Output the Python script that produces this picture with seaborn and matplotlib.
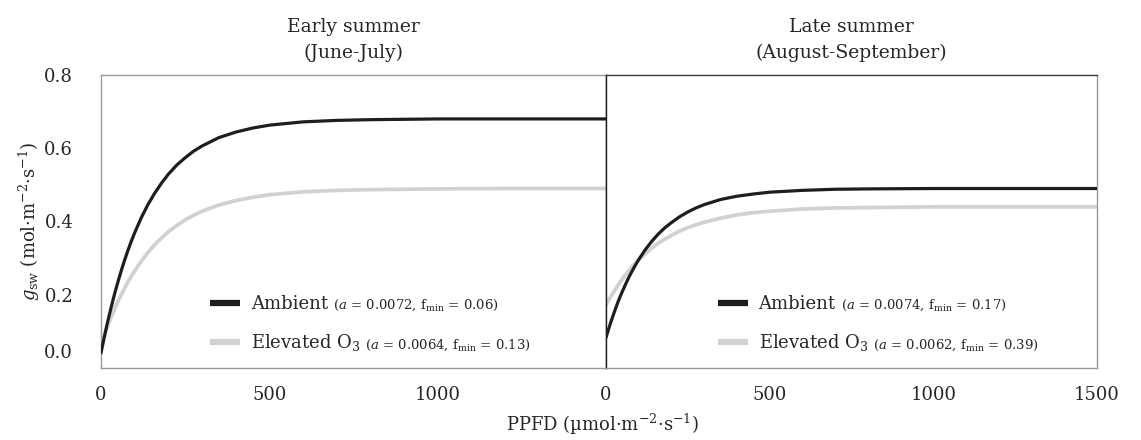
import numpy as np
import pandas as pd
import matplotlib
matplotlib.use("Agg")
import matplotlib.pyplot as plt
import matplotlib.transforms as mtransforms
from matplotlib.lines import Line2D
import seaborn as sns

# ---------------- data ----------------
ppfd = [0, 10, 20, 30, 40, 50, 60, 70, 80, 90, 100, 120, 140, 160, 180, 200,
        225, 250, 275, 300, 350, 400, 450, 500, 600, 700, 800, 1000, 1200, 1500]

early_ambient = [0.041, 0.085, 0.127, 0.165, 0.201, 0.234, 0.265, 0.294, 0.321,
                 0.346, 0.369, 0.411, 0.447, 0.478, 0.505, 0.529, 0.554, 0.574,
                 0.592, 0.606, 0.629, 0.644, 0.655, 0.663, 0.672, 0.676, 0.678,
                 0.680, 0.680, 0.680]
early_elevated = [0.064, 0.090, 0.115, 0.138, 0.160, 0.181, 0.200, 0.218, 0.235,
                  0.250, 0.265, 0.292, 0.316, 0.337, 0.355, 0.372, 0.389, 0.404,
                  0.417, 0.428, 0.445, 0.457, 0.466, 0.473, 0.481, 0.485, 0.487,
                  0.489, 0.490, 0.490]
late_ambient = [0.083, 0.112, 0.139, 0.164, 0.188, 0.209, 0.229, 0.248, 0.265,
                0.281, 0.296, 0.323, 0.346, 0.366, 0.383, 0.397, 0.413, 0.426,
                0.437, 0.446, 0.460, 0.469, 0.475, 0.480, 0.485, 0.488, 0.489,
                0.490, 0.490, 0.490]
late_elevated = [0.172, 0.188, 0.203, 0.217, 0.231, 0.243, 0.255, 0.266, 0.277,
                 0.286, 0.296, 0.312, 0.327, 0.341, 0.352, 0.362, 0.374, 0.383,
                 0.391, 0.398, 0.409, 0.418, 0.424, 0.428, 0.434, 0.437, 0.438,
                 0.440, 0.440, 0.440]

treatments = ["Ambient", "Elevated"]
periods = ["Early", "Late"]
titles = ["Early summer\n(June-July)", "Late summer\n(August-September)"]
legend_labels = ["Ambient", r"Elevated O$_3$"]
legend_params = [
    [r"($a$ = 0.0072, f$_{\mathrm{min}}$ = 0.06)", r"($a$ = 0.0064, f$_{\mathrm{min}}$ = 0.13)"],
    [r"($a$ = 0.0074, f$_{\mathrm{min}}$ = 0.17)", r"($a$ = 0.0062, f$_{\mathrm{min}}$ = 0.39)"],
]
yticks = [0.0, 0.2, 0.4, 0.6, 0.8]
xticks_left = [0, 500, 1000]
xticks_right = [0, 500, 1000, 1500]

series = {("Early", "Ambient"): early_ambient, ("Early", "Elevated"): early_elevated,
          ("Late", "Ambient"): late_ambient, ("Late", "Elevated"): late_elevated}
rows = []
for (per, trt), vals in series.items():
    for x, y in zip(ppfd, vals):
        rows.append({"period": per, "treatment": trt, "PPFD": x, "gsw": y})
df = pd.DataFrame(rows)

# ---------------- style ----------------
sns.set_theme(style="white")
plt.rcParams["font.family"] = ["DejaVu Serif"]
plt.rcParams["mathtext.fontset"] = "dejavuserif"

BLACK = "#211d1e"
GRAY = "#d0d1d3"
AXGRAY = "#9a9a9a"
palette = {"Ambient": BLACK, "Elevated": GRAY}

fig = plt.figure(figsize=(11.41, 4.40), dpi=100)
bottom, height = 0.1636, 0.666
ax1 = fig.add_axes([0.0885, bottom, 0.4426, height])
ax2 = fig.add_axes([0.5311, bottom, 0.4303, height])
axes = [ax1, ax2]

for i, (ax, per) in enumerate(zip(axes, periods)):
    sub = df[df["period"] == per]
    for trt, lw in zip(treatments, [2.3, 2.7]):
        sns.lineplot(data=sub[sub["treatment"] == trt], x="PPFD", y="gsw",
                     color=palette[trt], linewidth=lw, ax=ax, legend=False,
                     zorder=3 if trt == "Ambient" else 2)
    for ln in ax.get_lines():
        ln.set_solid_joinstyle("round")
    ax.set_xlim(0, 1500)
    ax.set_ylim(0, 0.8)
    ax.set_xlabel("")
    ax.set_ylabel("")
    ax.set_title(titles[i], fontsize=13.5, pad=12, linespacing=1.55)
    ax.tick_params(axis="both", direction="out", length=4, width=0.8,
                   color=AXGRAY, labelsize=13)
    ax.tick_params(axis="x", pad=9)
    ax.tick_params(axis="y", pad=16)
    for s in ax.spines.values():
        s.set_linewidth(1.0)

    handles = [Line2D([], [], color=palette[t], lw=4.5, solid_capstyle="butt")
               for t in treatments]
    lx = 0.216 if i == 0 else 0.228
    leg = ax.legend(handles, legend_labels, loc="lower left",
                    bbox_to_anchor=(lx, 0.05), frameon=False, fontsize=13,
                    handlelength=1.65, handletextpad=0.6, labelspacing=1.05,
                    borderpad=0, borderaxespad=0)
    for txt, ptxt in zip(leg.get_texts(), legend_params[i]):
        ax.annotate(ptxt, xy=(1, 0), xycoords=txt, xytext=(3.5, 0.3),
                    textcoords="offset points", va="bottom", ha="left",
                    fontsize=9.5, zorder=10, annotation_clip=False)

# left panel
ax1.set_xticks(xticks_left)
ax1.set_xticklabels([str(v) for v in xticks_left])
ax1.set_yticks(yticks)
ax1.set_yticklabels([f"{v:.1f}" for v in yticks])
ax1.spines["left"].set_color(AXGRAY)
ax1.spines["bottom"].set_color(AXGRAY)
ax1.spines["top"].set_color(AXGRAY)
ax1.spines["right"].set_color(BLACK)
# the 0.0 label sits a bit above its tick in the original
lab0 = ax1.get_yticklabels()[0]
lab0.set_transform(lab0.get_transform() +
                   mtransforms.ScaledTranslation(0, 12 / 72, fig.dpi_scale_trans))
ax1.set_ylabel(r"$g_{\mathrm{sw}}$ (mol·m$^{-2}$·s$^{-1}$)", fontsize=13, labelpad=2)

# right panel
ax2.set_xticks(xticks_right)
ax2.set_xticklabels([str(v) for v in xticks_right])
ax2.set_yticks([])
ax2.spines["left"].set_color(BLACK)
ax2.spines["top"].set_color("#3a3a3a")
ax2.spines["right"].set_color(AXGRAY)
ax2.spines["bottom"].set_color(AXGRAY)

fig.text(0.528, 1 - 424 / 440, r"PPFD (µmol·m$^{-2}$·s$^{-1}$)", ha="center",
         va="center", fontsize=13)

fig.savefig("out.png", dpi=100, facecolor="white")
